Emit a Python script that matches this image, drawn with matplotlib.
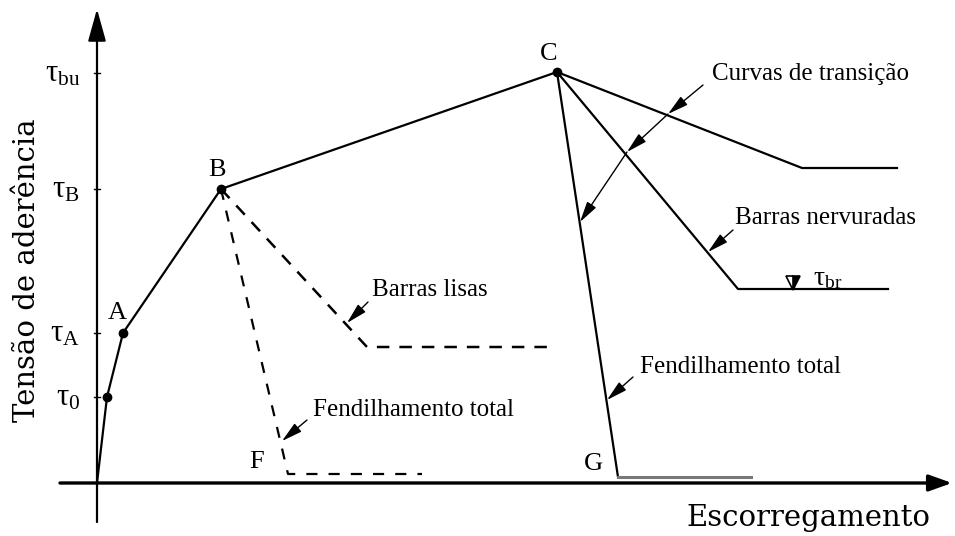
import matplotlib
matplotlib.use("Agg")
import matplotlib.pyplot as plt

plt.rcParams["mathtext.fontset"] = "custom"
plt.rcParams["mathtext.rm"] = "Liberation Serif"
plt.rcParams["mathtext.it"] = "Liberation Serif:italic"

# bond stress vs slip, schematic units (origin at the axes crossing)
main_s = [0, 10, 26, 124, 460]
main_t = [0, 86, 150, 294, 411]
dot_s = [10, 26, 124, 460]
dot_t = [86, 150, 294, 411]

# descending branches after C (ribbed bars)
upper_s = [460, 705, 800]
upper_t = [411, 315, 315]
ribbed_s = [460, 641, 791]
ribbed_t = [411, 194, 194]
split_s = [460, 521]
split_t = [411, 6]
split_res_s = [521, 654]
split_res_t = [6, 6]

# descending branches after B (plain bars), dashed
plain_s = [124, 270, 458]
plain_t = [294, 136, 136]
plain_split_s = [124, 191, 325]
plain_split_t = [294, 9, 9]

tick_vals = [86, 150, 294, 410]
tick_subs = ["0", "A", "B", "bu"]
tau_br = 194

fig = plt.figure(figsize=(9.55, 5.36), dpi=100)
ax = fig.add_axes([0, 0, 1, 1])
ax.set_xlim(-97, 858)
ax.set_ylim(-53, 483)
ax.axis("off")

# axes with arrowheads
ax.annotate("", xy=(0, 474), xytext=(0, -39),
            arrowprops=dict(arrowstyle="-|>,head_length=0.9,head_width=0.25",
                            lw=1.6, color="k", mutation_scale=22,
                            shrinkA=0, shrinkB=0))
ax.annotate("", xy=(855, 0), xytext=(-37, 0),
            arrowprops=dict(arrowstyle="-|>,head_length=0.7,head_width=0.25",
                            lw=2.4, color="k", mutation_scale=20,
                            shrinkA=0, shrinkB=0))

# ticks and tau labels on the stress axis
for v, sub in zip(tick_vals, tick_subs):
    ax.plot([-3, 3], [v, v], color="k", lw=1)
    ax.text(-17, v, r"$\mathrm{\tau}_{\mathrm{%s}}$" % sub, fontsize=22,
            ha="right", va="center")

lw = 1.6
ax.plot(main_s, main_t, color="k", lw=lw)
ax.plot(dot_s, dot_t, "o", color="k", ms=6)
ax.plot(upper_s, upper_t, color="k", lw=lw)
ax.plot(ribbed_s, ribbed_t, color="k", lw=lw)
ax.plot(split_s, split_t, color="k", lw=lw)
ax.plot(split_res_s, split_res_t, color="#777777", lw=2.2)
ax.plot(plain_s, plain_t, color="k", lw=1.8, dashes=(5, 4))
ax.plot(plain_split_s, plain_split_t, color="k", lw=1.6, dashes=(5, 5))

# residual stress marker
ax.plot([696], [tau_br + 6], marker="v", color="k", ms=10, mew=1.2,
        fillstyle="right", markerfacecoloralt="white")
ax.text(716, tau_br + 12, r"$\mathrm{\tau}_{\mathrm{br}}$", fontsize=20,
        ha="left", va="center")

serif = "Liberation Serif"
for lbl, x, y in [("A", 20, 170), ("B", 120, 313), ("C", 452, 429),
                  ("F", 160, 21), ("G", 496, 19)]:
    ax.text(x, y, lbl, fontsize=19, family=serif, ha="center", va="center")

arrow = dict(arrowstyle="-|>,head_length=0.7,head_width=0.18", lw=1,
             color="k", mutation_scale=18, shrinkA=0, shrinkB=0)

# transition curves: one leader with three heads
trans_pts = [(606, 398), (571, 369), (530, 331), (483, 261)]
for p0, p1 in zip(trans_pts[:-1], trans_pts[1:]):
    ax.annotate("", xy=p1, xytext=p0, arrowprops=arrow)
ax.text(615, 409, "Curvas de transição", fontsize=18, family=serif,
        ha="left", va="center")

ax.annotate("", xy=(611, 231), xytext=(636, 253), arrowprops=arrow)
ax.text(638, 265, "Barras nervuradas", fontsize=18, family=serif,
        ha="left", va="center")

ax.annotate("", xy=(250, 160), xytext=(271, 181), arrowprops=arrow)
ax.text(275, 193, "Barras lisas", fontsize=18, family=serif,
        ha="left", va="center")

ax.annotate("", xy=(185, 42), xytext=(210, 63), arrowprops=arrow)
ax.text(216, 73, "Fendilhamento total", fontsize=18, family=serif,
        ha="left", va="center")

ax.annotate("", xy=(510, 83), xytext=(536, 106), arrowprops=arrow)
ax.text(543, 116, "Fendilhamento total", fontsize=18, family=serif,
        ha="left", va="center")

ax.text(-70, 213, "Tensão de aderência", fontsize=21, family="DejaVu Serif",
        rotation=90, ha="center", va="center")
ax.text(711, -35, "Escorregamento", fontsize=21, family="DejaVu Serif",
        ha="center", va="center")

fig.savefig("out.png", dpi=100)
